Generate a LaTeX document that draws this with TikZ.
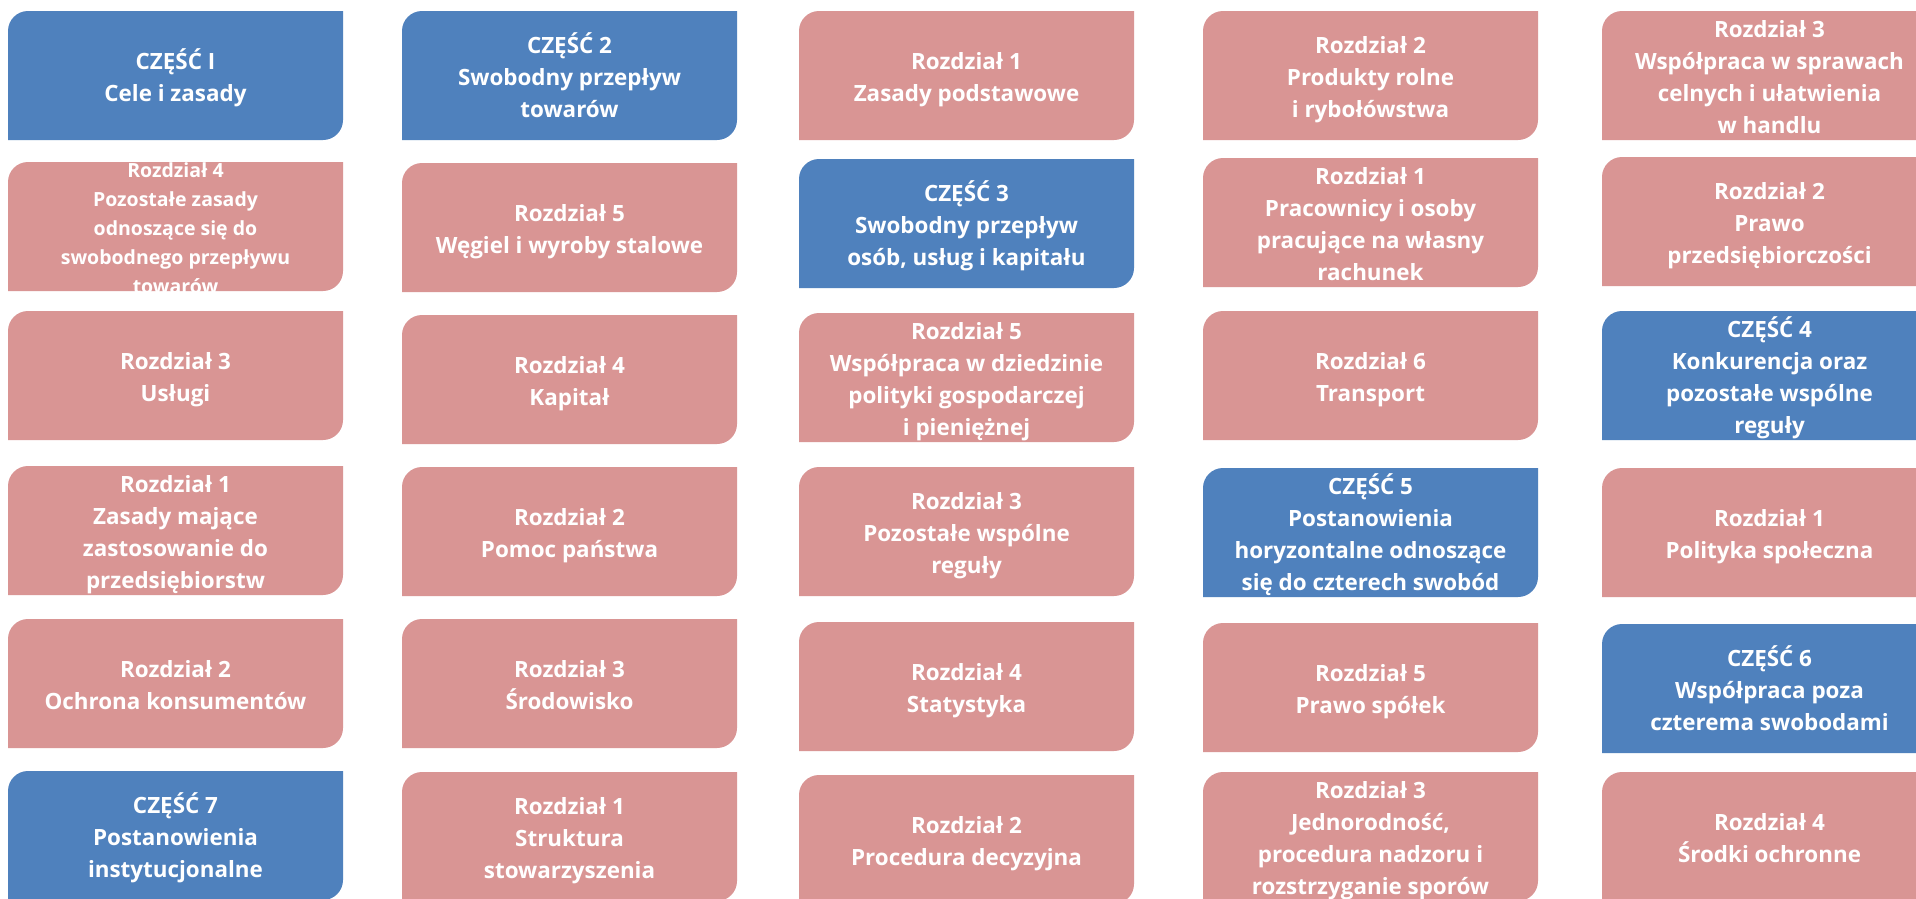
\documentclass[tikz,border=0pt]{standalone}
\usepackage{fontspec}
\setmainfont{Open Sans}
\definecolor{partblue}{HTML}{4F81BD}
\definecolor{chappink}{HTML}{D99594}
\newcommand\bxfs{22.4}
\newcommand\bxls{32}
\newcommand\bxcap{16}
\tikzset{
  partfill/.style={fill=partblue},
  chapfill/.style={fill=chappink},
  boxtext/.style={text=white, inner sep=0pt, anchor=base,
    font=\bfseries\fontsize{\bxfs}{\bxls}\selectfont}
}
% #1 name, #2 left, #3 top, #4 fill style, #5 number of lines, #6 text
\newcommand\pbox[6]{%
  \path[#4] (#2,#3+129) -- (#2,#3+20)
     .. controls (#2,#3+8.95) and (#2+8.95,#3) .. (#2+20,#3)
     -- (#2+335,#3) -- (#2+335,#3+109)
     .. controls (#2+335,#3+120.05) and (#2+326.05,#3+129) .. (#2+315,#3+129)
     -- cycle;
  \node[boxtext] (#1) at ({#2+167.5},{#3+66.5+((#5-1)*\bxls+\bxcap)/2})
     {\begin{tabular}[b]{@{}c@{}}#6\end{tabular}};
}
\begin{document}
\begin{tikzpicture}[x=1pt,y=-1pt]
\useasboundingbox (0,0) rectangle (1916,898);
\fill[white] (0,0) rectangle (1916,898);
\clip (0,0) rectangle (1916,898);
% row 1
\pbox{r1c1}{8}{11}{partfill}{2}{CZĘŚĆ I\\Cele i zasady}
\pbox{r1c2}{402}{11}{partfill}{3}{CZĘŚĆ 2\\Swobodny przepływ\\towarów}
\pbox{r1c3}{799}{11}{chapfill}{2}{Rozdział 1\\Zasady podstawowe}
\pbox{r1c4}{1203}{11}{chapfill}{3}{Rozdział 2\\Produkty rolne\\i rybołówstwa}
\pbox{r1c5}{1602}{11}{chapfill}{4}{Rozdział 3\\Współpraca w sprawach\\celnych i ułatwienia\\w handlu}
% row 2
{\renewcommand\bxfs{19.5}\renewcommand\bxls{29}\renewcommand\bxcap{13.9}%
\pbox{r2c1}{8}{162}{chapfill}{5}{Rozdział 4\\Pozostałe zasady\\odnoszące się do\\swobodnego przepływu\\towarów}}
\pbox{r2c2}{402}{163}{chapfill}{2}{Rozdział 5\\Węgiel i wyroby stalowe}
\pbox{r2c3}{799}{159}{partfill}{3}{CZĘŚĆ 3\\Swobodny przepływ\\osób, usług i kapitału}
\pbox{r2c4}{1203}{158}{chapfill}{4}{Rozdział 1\\Pracownicy i osoby\\pracujące na własny\\rachunek}
\pbox{r2c5}{1602}{157}{chapfill}{3}{Rozdział 2\\Prawo\\przedsiębiorczości}
% row 3
\pbox{r3c1}{8}{311}{chapfill}{2}{Rozdział 3\\Usługi}
\pbox{r3c2}{402}{315}{chapfill}{2}{Rozdział 4\\Kapitał}
\pbox{r3c3}{799}{313}{chapfill}{4}{Rozdział 5\\Współpraca w dziedzinie\\polityki gospodarczej\\i pieniężnej}
\pbox{r3c4}{1203}{311}{chapfill}{2}{Rozdział 6\\Transport}
\pbox{r3c5}{1602}{311}{partfill}{4}{CZĘŚĆ 4\\Konkurencja oraz\\pozostałe wspólne\\reguły}
% row 4
\pbox{r4c1}{8}{466}{chapfill}{4}{Rozdział 1\\Zasady mające\\zastosowanie do\\przedsiębiorstw}
\pbox{r4c2}{402}{467}{chapfill}{2}{Rozdział 2\\Pomoc państwa}
\pbox{r4c3}{799}{467}{chapfill}{3}{Rozdział 3\\Pozostałe wspólne\\reguły}
\pbox{r4c4}{1203}{468}{partfill}{4}{CZĘŚĆ 5\\Postanowienia\\horyzontalne odnoszące\\się do czterech swobód}
\pbox{r4c5}{1602}{468}{chapfill}{2}{Rozdział 1\\Polityka społeczna}
% row 5
\pbox{r5c1}{8}{619}{chapfill}{2}{Rozdział 2\\Ochrona konsumentów}
\pbox{r5c2}{402}{619}{chapfill}{2}{Rozdział 3\\Środowisko}
\pbox{r5c3}{799}{622}{chapfill}{2}{Rozdział 4\\Statystyka}
\pbox{r5c4}{1203}{623}{chapfill}{2}{Rozdział 5\\Prawo spółek}
\pbox{r5c5}{1602}{624}{partfill}{3}{CZĘŚĆ 6\\Współpraca poza\\czterema swobodami}
% row 6
\pbox{r6c1}{8}{771}{partfill}{3}{CZĘŚĆ 7\\Postanowienia\\instytucjonalne}
\pbox{r6c2}{402}{772}{chapfill}{3}{Rozdział 1\\Struktura\\stowarzyszenia}
\pbox{r6c3}{799}{775}{chapfill}{2}{Rozdział 2\\Procedura decyzyjna}
\pbox{r6c4}{1203}{772}{chapfill}{4}{Rozdział 3\\Jednorodność,\\procedura nadzoru i\\rozstrzyganie sporów}
\pbox{r6c5}{1602}{772}{chapfill}{2}{Rozdział 4\\Środki ochronne}
\end{tikzpicture}
\end{document}
